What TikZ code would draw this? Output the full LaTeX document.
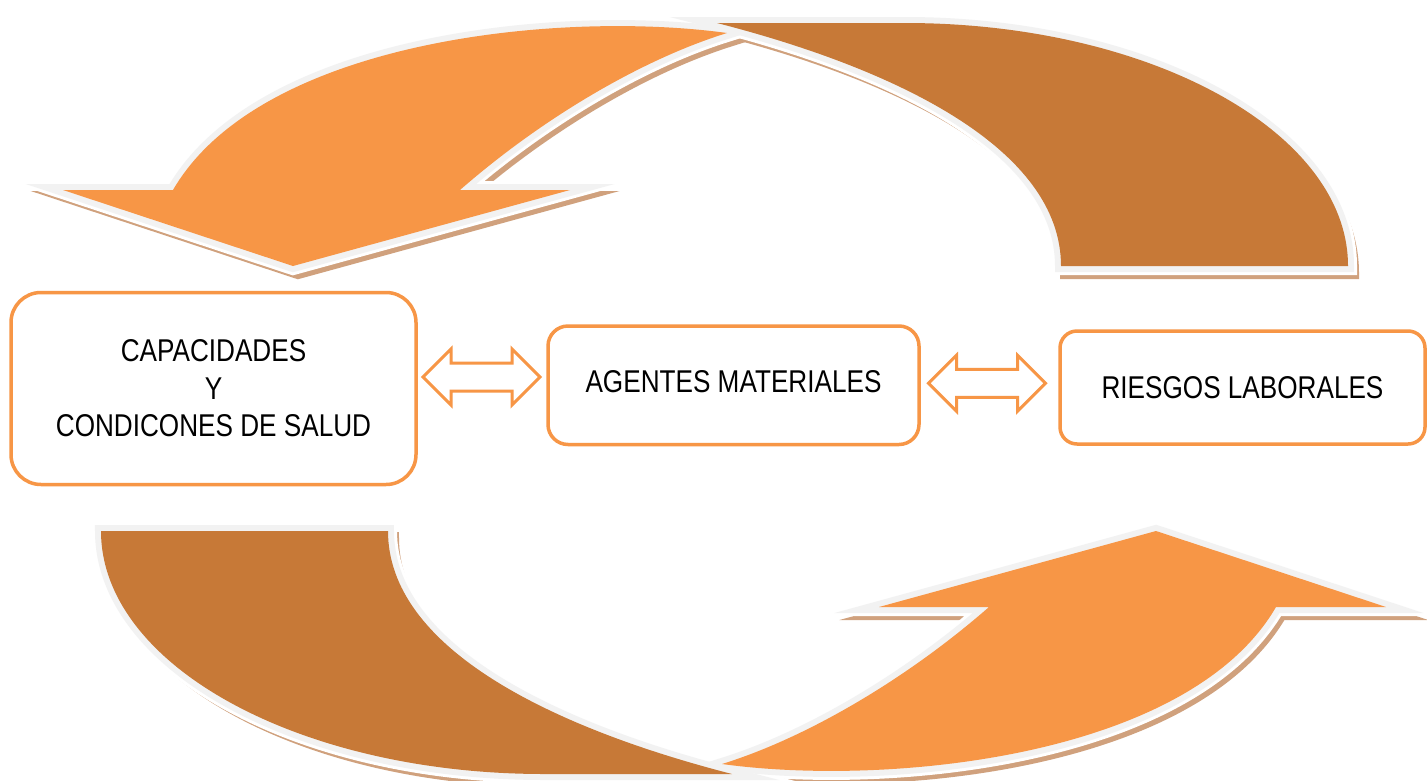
\documentclass[tikz,border=0pt]{standalone}
\usepackage{fontspec}
\setmainfont{Liberation Sans}
\newfontfamily\labelfont{Liberation Sans}[FakeStretch=0.83]
\usetikzlibrary{shapes.arrows}

\definecolor{arroworange}{HTML}{F79646}
\definecolor{arrowbrown}{HTML}{C77937}
\definecolor{rimgray}{HTML}{F2F2F2}
\definecolor{shadowtan}{HTML}{D0A17D}
\definecolor{boxline}{HTML}{F79646}

% Upper pair of curved pieces (front arrow and darker back band);
% the lower pair is the same outline turned half round.
\def\frontpiece{(63,-190) -- (173,-190)
  .. controls (260,-40) and (560,-10) .. (727,-33)
  .. controls (640,-60) and (540,-120) .. (460,-190)
  -- (570,-190) -- (293,-266) -- cycle}
\def\backpiece{(717,-23) -- (905,-23)
  .. controls (1149.7,-23) and (1348,-131.8) .. (1348,-266)
  -- (1061,-266)
  .. controls (1061,-150) and (900,-70) .. (717,-23) -- cycle}

\tikzset{
  piecehalo/.style={draw=white,line width=18pt},
  piecerim/.style={draw=rimgray,line width=12pt},
  pieceshadow/.style={fill=shadowtan,draw=shadowtan,line width=12pt},
  infobox/.style={draw=boxline,line width=3.5pt,fill=white,align=center,
    font=\labelfont\fontsize{31.5}{37.5}\selectfont,inner sep=0pt},
  twoway/.style={double arrow,draw=boxline,line width=3pt,fill=white,
    inner xsep=0pt,inner ysep=12.5pt,double arrow head extend=14pt,
    double arrow tip angle=90,minimum height=117pt}
}

\begin{document}
\begin{tikzpicture}[x=1pt,y=1pt]
  \useasboundingbox (0,0) rectangle (1427,-780);
  \fill[white] (0,0) rectangle (1427,-780);

  % drop shadows of all four pieces
  \begin{scope}[shift={(5,-7)}]
    \path[pieceshadow] \frontpiece;
    \path[pieceshadow] \backpiece;
    \begin{scope}[rotate around={180:(724.5,-398.5)}]
      \path[pieceshadow] \frontpiece;
      \path[pieceshadow] \backpiece;
    \end{scope}
  \end{scope}

  % upper pair
  \path[piecehalo] \frontpiece;
  \path[piecehalo] \backpiece;
  \path[piecerim] \frontpiece;
  \fill[arroworange] \frontpiece;
  \path[piecerim] \backpiece;
  \fill[arrowbrown] \backpiece;

  % lower pair
  \begin{scope}[rotate around={180:(724.5,-398.5)}]
    \path[piecehalo] \frontpiece;
    \path[piecehalo] \backpiece;
    \path[piecerim] \frontpiece;
    \fill[arroworange] \frontpiece;
    \path[piecerim] \backpiece;
    \fill[arrowbrown] \backpiece;
  \end{scope}

  % boxes
  \node[infobox,rounded corners=30pt,minimum width=405pt,minimum height=192pt]
    (salud) at (213.5,-388.5) {CAPACIDADES\\Y\\CONDICONES DE SALUD};
  \node[infobox,rounded corners=20pt,minimum width=371pt,minimum height=118.5pt,
    text depth=7pt] (agentes) at (733.5,-385.25) {AGENTES MATERIALES};
  \node[infobox,rounded corners=17pt,minimum width=365pt,minimum height=113pt]
    (riesgos) at (1242.5,-387.5) {RIESGOS LABORALES};

  % two-way arrows between the boxes
  \node[twoway] (salud-agentes) at (481.5,-377) {};
  \node[twoway] (agentes-riesgos) at (987,-383.3) {};
\end{tikzpicture}
\end{document}
